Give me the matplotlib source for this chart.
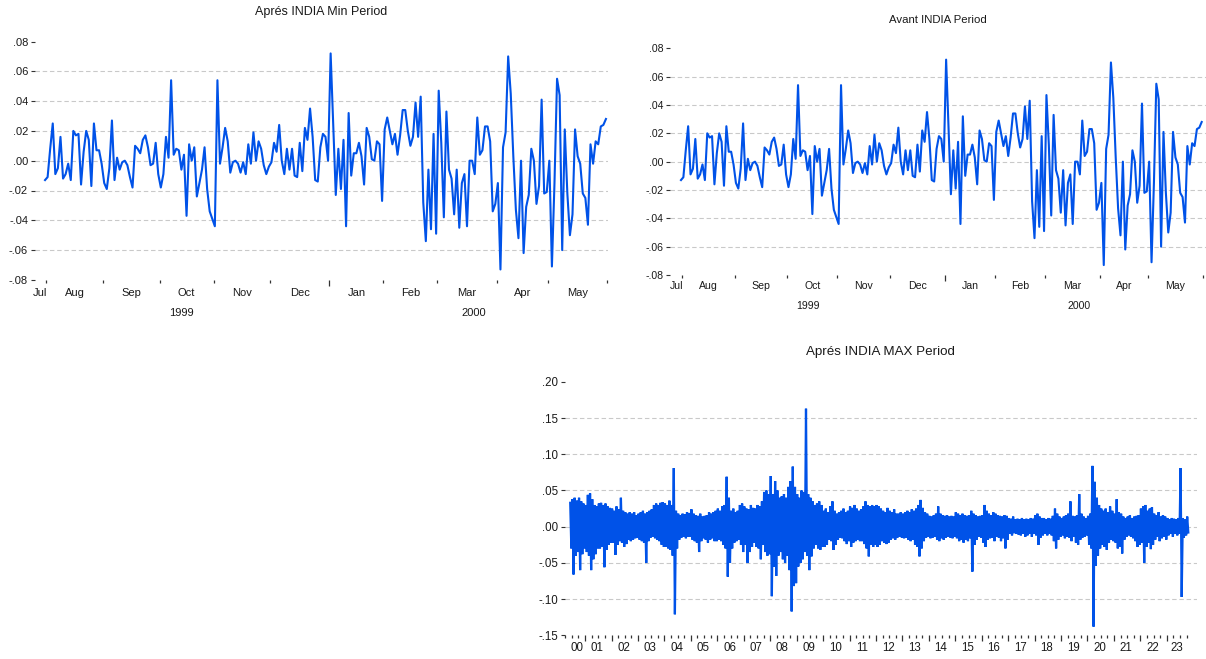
import matplotlib
matplotlib.use("Agg")
import matplotlib.pyplot as plt
import numpy as np

plt.rcParams['font.family'] = ['Liberation Sans', 'DejaVu Sans']
plt.rcParams['axes.unicode_minus'] = False

# ---------------- data ----------------
# Daily returns, late Jul 1999 - May 2000 (same series in both top panels)
min_returns = [
    -0.013, -0.011, 0.008, 0.025, -0.009, -0.005, 0.016, -0.012, -0.009, -0.002,
    -0.013, 0.020, 0.017, 0.018, -0.016, 0.006, 0.020, 0.014, -0.017, 0.025,
    0.007, 0.007, -0.002, -0.015, -0.019, -0.005, 0.027, -0.013, 0.002, -0.006,
    -0.001, 0.000, -0.003, -0.011, -0.018, 0.010, 0.008, 0.005, 0.014, 0.017,
    0.009, -0.003, -0.002, 0.012, -0.009, -0.018, -0.009, 0.016, 0.002, 0.054,
    0.004, 0.008, 0.007, -0.006, 0.004, -0.037, 0.011, 0.000, 0.009, -0.024,
    -0.015, -0.006, 0.009, -0.019, -0.034, -0.039, -0.044, 0.054, -0.002, 0.009,
    0.022, 0.013, -0.008, -0.001, 0.000, -0.002, -0.008, -0.001, -0.009, 0.011,
    -0.002, 0.019, 0.000, 0.013, 0.008, -0.003, -0.009, -0.004, -0.001, 0.012,
    0.006, 0.024, 0.000, -0.009, 0.008, -0.006, 0.008, -0.010, -0.011, 0.012,
    -0.007, 0.022, 0.014, 0.035, 0.016, -0.013, -0.014, 0.009, 0.018, 0.016,
    0.000, 0.072, 0.025, -0.023, 0.008, -0.019, 0.014, -0.044, 0.032, -0.010,
    0.005, 0.005, 0.012, 0.003, -0.016, 0.022, 0.016, 0.001, 0.000, 0.013,
    0.011, -0.027, 0.021, 0.029, 0.020, 0.011, 0.018, 0.004, 0.017, 0.034,
    0.034, 0.020, 0.010, 0.016, 0.039, 0.016, 0.043, -0.028, -0.054, -0.006,
    -0.046, 0.018, -0.049, 0.047, 0.012, -0.038, 0.033, -0.006, -0.012, -0.036,
    -0.006, -0.045, -0.015, -0.009, -0.044, 0.000, 0.000, -0.009, 0.029, 0.004,
    0.007, 0.023, 0.023, 0.013, -0.034, -0.029, -0.015, -0.073, 0.009, 0.019,
    0.070, 0.045, 0.003, -0.033, -0.052, 0.000, -0.062, -0.031, -0.023, 0.008,
    0.000, -0.029, -0.017, 0.041, -0.022, -0.021, 0.000, -0.071, -0.015, 0.055,
    0.044, -0.060, 0.021, -0.022, -0.050, -0.036, 0.021, 0.003, -0.002, -0.022,
    -0.025, -0.043, 0.011, -0.002, 0.013, 0.011, 0.023, 0.024, 0.028,
]
month_names = ['Jul', 'Aug', 'Sep', 'Oct', 'Nov', 'Dec', 'Jan', 'Feb', 'Mar', 'Apr', 'May']
# observation index of month boundaries (Aug 1 ... Jun 1)
month_bounds = [0.5, 22.5, 44.5, 65.5, 87.5, 110.5, 131.5, 152.5, 175.5, 195.5, 218.5]
year_bound = 110.5
year_names = ['1999', '2000']
year_label_pos = [53, 166.5]

# Daily returns Jun 2000 - Oct 2023: monthly highs / lows (in thousandths)
max_start_year, max_start_month = 2000, 6
max_hi = [
    33, 38, 40, 36, 40, 35, 32,                       # 2000 Jun-Dec
    30, 44, 46, 38, 30, 28, 32, 33, 30, 32, 28, 26,   # 2001
    25, 22, 28, 24, 40, 22, 20, 18, 20, 18, 20, 16,   # 2002
    18, 20, 22, 18, 20, 22, 24, 30, 32, 30, 33, 34,   # 2003
    32, 30, 36, 30, 81, 22, 18, 16, 18, 17, 20, 19,   # 2004
    24, 18, 16, 15, 18, 14, 15, 16, 20, 18, 20, 22,   # 2005
    25, 22, 28, 30, 69, 40, 22, 25, 20, 22, 30, 32,   # 2006
    28, 25, 24, 30, 26, 25, 30, 28, 35, 48, 50, 45,   # 2007
    70, 45, 63, 50, 40, 42, 45, 40, 55, 63, 83, 55,   # 2008
    45, 40, 50, 48, 163, 45, 40, 35, 30, 32, 35, 30,  # 2009
    22, 25, 20, 28, 35, 22, 18, 20, 22, 25, 20, 22,   # 2010
    28, 26, 30, 25, 22, 24, 28, 35, 30, 28, 30, 28,   # 2011
    30, 28, 25, 22, 20, 26, 22, 20, 24, 18, 18, 20,   # 2012
    18, 20, 22, 20, 24, 22, 25, 30, 37, 26, 20, 18,   # 2013
    15, 14, 16, 18, 28, 18, 16, 15, 16, 14, 15, 14,   # 2014
    20, 18, 16, 18, 16, 15, 16, 22, 18, 16, 14, 15,   # 2015
    16, 30, 22, 18, 16, 20, 18, 16, 15, 14, 16, 15,   # 2016
    12, 11, 14, 10, 11, 10, 12, 10, 11, 10, 12, 11,   # 2017
    16, 18, 14, 12, 12, 10, 12, 11, 15, 25, 18, 14,   # 2018
    12, 14, 16, 18, 35, 15, 14, 16, 45, 18, 14, 12,   # 2019
    15, 18, 84, 62, 40, 30, 25, 22, 25, 20, 28, 22,   # 2020
    18, 38, 20, 18, 14, 12, 14, 16, 12, 14, 15, 16,   # 2021
    25, 28, 30, 22, 25, 27, 18, 16, 20, 14, 16, 14,   # 2022
    12, 10, 12, 11, 10, 12, 81, 12, 10, 14,           # 2023 Jan-Oct
]
max_lo = [
    -30, -66, -40, -35, -60, -38, -30,                          # 2000 Jun-Dec
    -35, -40, -60, -45, -38, -30, -30, -28, -56, -32, -25, -22,  # 2001
    -22, -39, -25, -20, -22, -28, -24, -18, -20, -18, -16, -15,  # 2002
    -18, -20, -22, -50, -20, -15, -14, -16, -18, -20, -25, -28,  # 2003
    -28, -30, -32, -40, -121, -30, -18, -15, -14, -16, -14, -14, # 2004
    -18, -20, -22, -35, -20, -16, -18, -22, -18, -16, -20, -20,  # 2005
    -18, -20, -25, -30, -69, -50, -30, -22, -20, -18, -25, -35,  # 2006
    -25, -50, -35, -28, -22, -28, -30, -45, -25, -35, -40, -38,  # 2007
    -96, -55, -68, -40, -35, -45, -50, -40, -60, -117, -82, -78, # 2008
    -55, -50, -45, -35, -40, -60, -41, -30, -25, -30, -32, -28,  # 2009
    -28, -25, -18, -20, -32, -25, -18, -15, -16, -20, -24, -20,  # 2010
    -28, -22, -20, -18, -20, -20, -24, -30, -41, -25, -28, -25,  # 2011
    -28, -25, -20, -22, -24, -22, -18, -16, -18, -15, -14, -15,  # 2012
    -16, -15, -18, -20, -18, -25, -28, -41, -30, -20, -15, -14,  # 2013
    -16, -15, -14, -18, -20, -16, -18, -15, -14, -15, -16, -14,  # 2014
    -16, -20, -18, -22, -18, -20, -16, -62, -25, -18, -14, -15,  # 2015
    -22, -28, -18, -16, -15, -20, -14, -15, -20, -16, -30, -18,  # 2016
    -10, -12, -9, -10, -11, -12, -10, -14, -12, -10, -14, -10,   # 2017
    -12, -25, -15, -12, -10, -12, -10, -12, -20, -30, -18, -14,  # 2018
    -12, -16, -14, -15, -20, -14, -22, -25, -18, -15, -14, -12,  # 2019
    -25, -30, -138, -54, -40, -30, -25, -28, -32, -22, -18, -20, # 2020
    -22, -30, -28, -37, -18, -14, -12, -14, -16, -20, -28, -25,  # 2021
    -22, -50, -28, -22, -31, -25, -18, -14, -20, -16, -14, -18,  # 2022
    -12, -10, -14, -10, -12, -10, -97, -15, -12, -8,             # 2023 Jan-Oct
]
max_year_labels = ['%02d' % (y % 100) for y in range(2000, 2024)]

# ---------------- styling ----------------
W, H = 1206, 659
BLUE = '#0052E8'
GRID = '#C9C9C9'
TXT = '#1a1a1a'

fig = plt.figure(figsize=(W / 100, H / 100), dpi=100)


def px_axes(left, top, right, bottom):
    return fig.add_axes([left / W, 1 - bottom / H, (right - left) / W, (bottom - top) / H])


def fmt(v):
    s = '%.2f' % v
    s = s.replace('0.', '.', 1)
    if s in ('-.00',):
        s = '.00'
    return s


def base_style(ax, yticks, ylim, tick_fs, title, title_fs, title_off):
    for sp in ax.spines.values():
        sp.set_visible(False)
    ax.set_ylim(*ylim)
    ax.set_yticks(yticks)
    ax.set_yticklabels([fmt(v) for v in yticks], fontsize=tick_fs, color=TXT)
    ax.tick_params(axis='y', direction='out', length=3, width=0.8, pad=2, color='#333333')
    for v in yticks:
        if ylim[0] < v < ylim[1] - 1e-9 and v > ylim[0] + 1e-9:
            ax.axhline(v, color=GRID, lw=0.8, ls=(0, (4, 2.5)), zorder=0)
    ax.annotate(title, xy=(0.5, 1), xycoords='axes fraction', xytext=(0, title_off),
                textcoords='offset pixels', ha='center', va='center',
                fontsize=title_fs, color=TXT)


def top_panel(ax, title, title_fs, tick_fs, title_off, xlim, mlab_off, ylab_off):
    x = np.arange(len(min_returns))
    ax.plot(x, min_returns, color=BLUE, lw=1.5, solid_joinstyle='round')
    ax.set_xlim(*xlim)
    yt = [-0.08, -0.06, -0.04, -0.02, 0.0, 0.02, 0.04, 0.06, 0.08]
    base_style(ax, yt, (-0.08, 0.08), tick_fs, title, title_fs, title_off)
    ax.set_xticks([year_bound])
    ax.set_xticklabels([''])
    ax.set_xticks([b for b in month_bounds if b != year_bound], minor=True)
    ax.tick_params(axis='x', which='major', direction='out', length=4.5, width=0.9, color='#333333')
    ax.tick_params(axis='x', which='minor', direction='out', length=2.5, width=0.9, color='#333333')
    # month labels centred in each month
    lab_pos = [-1.8] + [(month_bounds[i] + month_bounds[i + 1]) / 2 for i in range(len(month_bounds) - 1)]
    for name, p in zip(month_names, lab_pos):
        ax.annotate(name, xy=(p, 0), xycoords=('data', 'axes fraction'), xytext=(0, -mlab_off),
                    textcoords='offset pixels', ha='center', va='center', fontsize=tick_fs, color=TXT)
    for name, p in zip(year_names, year_label_pos):
        ax.annotate(name, xy=(p, 0), xycoords=('data', 'axes fraction'), xytext=(0, -ylab_off),
                    textcoords='offset pixels', ha='center', va='center', fontsize=tick_fs, color=TXT)


ax1 = px_axes(35, 41.5, 608, 279.9)
top_panel(ax1, 'Aprés INDIA Min Period', 9, 8, 29.5, (-3.9, 218.8), 13, 33)

ax2 = px_axes(670, 48.3, 1206, 275)
top_panel(ax2, 'Avant INDIA Period', 8.2, 7.6, 28.5, (-4.6, 219.8), 11, 31)

# ---------------- bottom panel ----------------
ax3 = px_axes(565, 381.9, 1196.7, 635.3)
n = len(max_hi)
t0 = max_start_year + (max_start_month - 1) / 12
tm = t0 + np.arange(n) / 12
xs = np.empty(2 * n)
ys = np.empty(2 * n)
xs[0::2] = tm + 0.25 / 12
xs[1::2] = tm + 0.75 / 12
ys[0::2] = np.array(max_hi) / 1000
ys[1::2] = np.array(max_lo) / 1000
ax3.plot(xs, ys, color=BLUE, lw=1.6, solid_joinstyle='miter')
ax3.set_xlim(2000.24, 2024.13)
yt3 = [-0.15, -0.10, -0.05, 0.0, 0.05, 0.10, 0.15, 0.20]
base_style(ax3, yt3, (-0.15, 0.20), 8.3, 'Aprés INDIA MAX Period', 9.6, 30)
ax3.set_xticks(np.arange(2001, 2024))
ax3.set_xticklabels([''] * 23)
q = [y + k / 4 for y in range(2000, 2024) for k in (1, 2, 3) if 2000.24 <= y + k / 4 <= 2024.13]
ax3.set_xticks(q, minor=True)
ax3.tick_params(axis='x', which='major', direction='out', length=4.5, width=0.9, color='#333333')
ax3.tick_params(axis='x', which='minor', direction='out', length=2.5, width=0.9, color='#333333')
data_start = xs[0]
data_end = xs[-1]
for i, lab in enumerate(max_year_labels):
    y = 2000 + i
    lo_ = max(y, data_start)
    hi_ = min(y + 1, data_end)
    p = (lo_ + hi_) / 2
    ax3.annotate(lab, xy=(p, 0), xycoords=('data', 'axes fraction'), xytext=(-1, -13),
                 textcoords='offset pixels', ha='center', va='center', fontsize=8.3, color=TXT)

fig.savefig('out.png', dpi=100)
